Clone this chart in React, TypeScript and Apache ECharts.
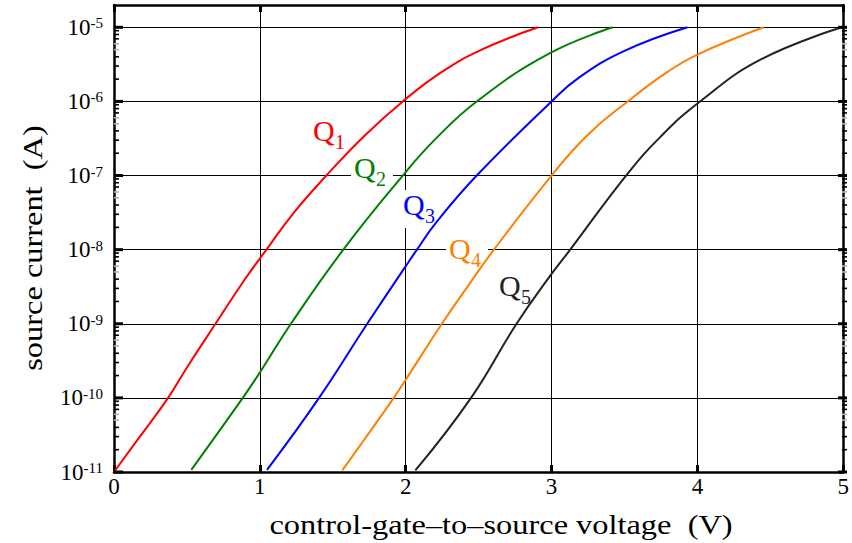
import React, { useEffect, useRef } from 'react';
import * as echarts from 'echarts';

const FONT = '"Liberation Serif", "Times New Roman", serif';

// gate voltage (V) and source current (A)
const q1Voltage = [0.0, 0.166, 0.371, 0.507, 0.696, 0.894, 1.045, 1.224, 1.456, 1.725, 1.98, 2.248, 2.521, 2.908];
const q1Current = [1e-11, 2.8e-11, 1e-10, 2.7e-10, 1e-9, 3.9e-9, 1e-8, 3.0e-8, 1e-7, 3.55e-7, 1e-6, 2.5e-6, 5.0e-6, 1e-5];

const q2Voltage = [0.53, 0.883, 1.0, 1.213, 1.572, 1.98, 2.203, 2.487, 2.976, 3.42];
const q2Current = [1.07e-11, 1e-10, 2.2e-10, 1e-9, 1e-8, 1e-7, 3.1e-7, 1e-6, 4.35e-6, 1e-5];

const q3Voltage = [1.049, 1.406, 1.736, 1.998, 2.077, 2.203, 2.487, 3.0, 3.181, 3.5, 3.932];
const q3Current = [1.07e-11, 1e-10, 1e-9, 5.9e-9, 1e-8, 2.25e-8, 1e-7, 1e-6, 2.05e-6, 4.8e-6, 1e-5];

const q4Voltage = [1.565, 1.702, 1.918, 2.0, 2.248, 2.43, 2.605, 3.0, 3.249, 3.522, 3.795, 4.0, 4.455];
const q4Current = [1.05e-11, 2.5e-11, 1e-10, 1.76e-10, 1e-9, 3.3e-9, 1e-8, 1e-7, 3.56e-7, 1e-6, 2.5e-6, 4.29e-6, 1e-5];

const q5Voltage = [2.066, 2.448, 2.76, 3.0, 3.128, 3.511, 3.75, 4.018, 4.432, 4.99];
const q5Current = [1.05e-11, 1e-10, 1e-9, 4.7e-9, 1e-8, 1e-7, 3.38e-7, 1e-6, 3.66e-6, 1e-5];

const seriesNames = ['Q1', 'Q2', 'Q3', 'Q4', 'Q5'];
const seriesSubscripts = ['1', '2', '3', '4', '5'];
const seriesColors = ['#ff0000', '#008000', '#0000ff', '#ff8000', '#222222'];
const voltages = [q1Voltage, q2Voltage, q3Voltage, q4Voltage, q5Voltage];
const currents = [q1Current, q2Current, q3Current, q4Current, q5Current];

// ticks of the current axis
const majorDecades = [1e-11, 1e-10, 1e-9, 1e-8, 1e-7, 1e-6, 1e-5];
const minorDecades = [1e-11, 1e-10, 1e-9, 1e-8, 1e-7, 1e-6];
const minorMultipliers = [2, 3, 4, 5, 6, 7, 8, 9];
const minorFaint = [false, false, false, true, true, false, false, false];

// label placement (pixels): [Q glyph left, Q cap top]
const labelPlacement = [
  [314, 123],
  [355, 160],
  [404, 197],
  [450, 241],
  [500, 278],
];

const xMin = 0;
const xMax = 5;
const yMin = 1e-11;
const yMax = 2e-5;

const GRID = { left: 114, right: 5, top: 5, bottom: 71 };
const W = 852;

export default function App() {
  const ref = useRef<HTMLDivElement>(null);

  useEffect(() => {
    if (!ref.current) return;
    const chart = echarts.init(ref.current, null, { renderer: 'svg' });

    const frameLine = () => ({ show: true, onZero: false, lineStyle: { color: '#000', width: 2.5 } });

    const series: any[] = seriesNames.map((name, i) => ({
      name,
      type: 'line',
      xAxisIndex: 0,
      yAxisIndex: 0,
      data: voltages[i].map((v, k) => [v, currents[i][k]]),
      showSymbol: false,
      smooth: 0.45,
      lineStyle: { color: seriesColors[i], width: 2 },
      itemStyle: { color: seriesColors[i] },
      z: 3,
    }));

    chart.setOption({
      animation: false,
      backgroundColor: '#fff',
      grid: GRID,
      xAxis: [
        {
          type: 'value',
          position: 'bottom',
          min: xMin,
          max: xMax,
          interval: 1,
          axisLine: frameLine(),
          axisTick: { show: true, inside: true, length: 7, lineStyle: { color: '#000', width: 3 } },
          axisLabel: { fontSize: 23, fontFamily: FONT, color: '#000', margin: 3 },
          splitLine: { show: true, lineStyle: { color: '#000', width: 1 } },
        },
        {
          type: 'value',
          position: 'top',
          min: xMin,
          max: xMax,
          interval: 1,
          axisLine: frameLine(),
          axisTick: { show: true, inside: true, length: 7, lineStyle: { color: '#000', width: 3 } },
          axisLabel: { show: false },
          splitLine: { show: false },
        },
      ],
      yAxis: [
        {
          type: 'log',
          logBase: 10,
          position: 'left',
          min: yMin,
          max: yMax,
          axisLine: frameLine(),
          axisTick: { show: false },
          axisLabel: {
            margin: 11,
            formatter: (v: number) => {
              const e = Math.log10(v);
              const r = Math.round(e);
              if (Math.abs(e - r) > 1e-6) return '';
              return `{b|10}{s|${r}}`;
            },
            rich: {
              b: { fontSize: 23, fontFamily: FONT, color: '#000', lineHeight: 23, padding: [6, 0, 0, 0], verticalAlign: 'bottom' },
              s: { fontSize: 15, fontFamily: FONT, color: '#000', lineHeight: 15, verticalAlign: 'top' },
            },
          },
          splitLine: { show: true, lineStyle: { color: '#000', width: 1 } },
        },
        {
          type: 'log',
          logBase: 10,
          position: 'right',
          min: yMin,
          max: yMax,
          axisLine: frameLine(),
          axisTick: { show: false },
          axisLabel: { show: false },
          splitLine: { show: false },
        },
      ],
      series,
    });

    const xl = GRID.left;
    const xr = W - GRID.right;
    const graphic: any[] = [];

    // y-axis ticks placed through the axis scale
    majorDecades.forEach((d) => {
      const y = chart.convertToPixel({ yAxisIndex: 0 }, d) as number;
      graphic.push({ type: 'line', z: 5, shape: { x1: xl, y1: y, x2: xl + 9, y2: y }, style: { stroke: '#000', lineWidth: 3 } });
      graphic.push({ type: 'line', z: 5, shape: { x1: xr, y1: y, x2: xr - 9, y2: y }, style: { stroke: '#000', lineWidth: 3 } });
    });
    minorDecades.forEach((d) => {
      minorMultipliers.forEach((m, j) => {
        const y = chart.convertToPixel({ yAxisIndex: 0 }, m * d) as number;
        const stroke = minorFaint[j] ? '#b4b4b4' : '#000';
        graphic.push({ type: 'line', z: 5, shape: { x1: xl, y1: y, x2: xl + 5, y2: y }, style: { stroke, lineWidth: 1.6 } });
        graphic.push({ type: 'line', z: 5, shape: { x1: xr, y1: y, x2: xr - 5, y2: y }, style: { stroke, lineWidth: 1.6 } });
      });
    });

    // curve labels with white boxes that break the grid lines
    labelPlacement.forEach((p, i) => {
      graphic.push({
        type: 'rect',
        z: 1,
        shape: { x: p[0] - 4, y: p[1] - 7, width: 42, height: 38 },
        style: { fill: '#fff' },
      });
      graphic.push({
        type: 'text',
        z: 1,
        left: p[0] - 1,
        top: p[1] - 8,
        style: { text: 'Q', fontSize: 30, fontFamily: FONT, fill: seriesColors[i] },
      });
      graphic.push({
        type: 'text',
        z: 1,
        left: p[0] + 21,
        top: p[1] + 9,
        style: { text: seriesSubscripts[i], fontSize: 20, fontFamily: FONT, fill: seriesColors[i] },
      });
    });

    graphic.push({
      type: 'text',
      x: 501,
      y: 524,
      scaleX: 1.2,
      style: {
        text: 'control-gate\u2013to\u2013source voltage  (V)',
        fontSize: 27,
        fontFamily: FONT,
        fill: '#000',
        align: 'center',
        verticalAlign: 'middle',
      },
    });
    graphic.push({
      type: 'text',
      x: 32,
      y: 248,
      rotation: Math.PI / 2,
      scaleX: 1.2,
      style: {
        text: 'source current  (A)',
        fontSize: 27,
        fontFamily: FONT,
        fill: '#000',
        align: 'center',
        verticalAlign: 'middle',
      },
    });

    chart.setOption({ graphic });

    return () => chart.dispose();
  }, []);

  return <div ref={ref} style={{ position: 'fixed', left: 0, top: 0, width: 852, height: 543 }} />;
}
